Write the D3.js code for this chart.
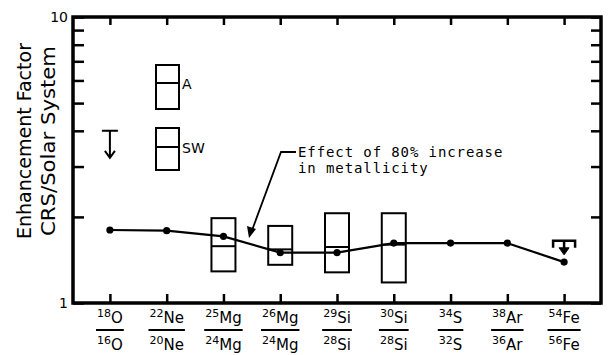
<!DOCTYPE html>
<html>
<head>
<meta charset="utf-8">
<script src="https://cdn.jsdelivr.net/npm/d3@7"></script>
<style>
  body { margin: 0; background: #fff; }
  svg text { font-family: "DejaVu Sans", sans-serif; fill: #000; }
</style>
</head>
<body>
<svg id="chart" width="609" height="355" viewBox="0 0 609 355"></svg>
<script>
// isotope ratios on the x axis
const ratios = ["18O/16O", "22Ne/20Ne", "25Mg/24Mg", "26Mg/24Mg", "29Si/28Si", "30Si/28Si", "34S/32S", "38Ar/36Ar", "54Fe/56Fe"];
const numerators = [["18", "O"], ["22", "Ne"], ["25", "Mg"], ["26", "Mg"], ["29", "Si"], ["30", "Si"], ["34", "S"], ["38", "Ar"], ["54", "Fe"]];
const denominators = [["16", "O"], ["20", "Ne"], ["24", "Mg"], ["24", "Mg"], ["28", "Si"], ["28", "Si"], ["32", "S"], ["36", "Ar"], ["56", "Fe"]];

// enhancement factor CRS / solar system
const enhancement = [1.80, 1.79, 1.71, 1.50, 1.50, 1.62, 1.62, 1.62, 1.39];

// upper limits
const limitRatios = ["18O/16O", "54Fe/56Fe"];
const limitValues = [4.0, 1.65];

// boxes: effect of 80% increase in metallicity (low, middle, high)
const boxRatios = ["25Mg/24Mg", "26Mg/24Mg", "29Si/28Si", "30Si/28Si"];
const boxLow = [1.29, 1.36, 1.28, 1.18];
const boxMid = [1.58, 1.54, 1.57, 1.60];
const boxHigh = [1.98, 1.86, 2.06, 2.06];

const yTicks = [1, 2, 3, 4, 5, 6, 7, 8, 9, 10];

const svg = d3.select("#chart");
const mLeft = 73, mRight = 601, mTop = 17, mBottom = 303;

const x = d3.scalePoint().domain(ratios).range([mLeft, mRight]).padding(0.65);
const y = d3.scaleLog().domain([1, 10]).range([mBottom, mTop]);

// axes, ticks pointing inwards
svg.append("g")
    .attr("transform", "translate(" + mLeft + ",0)")
    .call(d3.axisLeft(y).tickValues(yTicks).tickSize(-11).tickFormat(""))
    .call(g => g.select(".domain").remove())
    .call(g => g.selectAll("line").attr("stroke-width", 2.5));
svg.append("g")
    .attr("transform", "translate(" + mRight + ",0)")
    .call(d3.axisRight(y).tickValues(yTicks).tickSize(-10).tickFormat(""))
    .call(g => g.select(".domain").remove())
    .call(g => g.selectAll("line").attr("stroke-width", 2.5));
svg.append("g")
    .attr("transform", "translate(0," + mBottom + ")")
    .call(d3.axisBottom(x).tickSize(-9).tickFormat(""))
    .call(g => g.select(".domain").remove())
    .call(g => g.selectAll("line").attr("stroke-width", 2.5));
svg.append("g")
    .attr("transform", "translate(0," + mTop + ")")
    .call(d3.axisTop(x).tickSize(-8).tickFormat(""))
    .call(g => g.select(".domain").remove())
    .call(g => g.selectAll("line").attr("stroke-width", 2.5));

// frame
svg.append("rect")
    .attr("x", mLeft).attr("y", mTop)
    .attr("width", mRight - mLeft).attr("height", mBottom - mTop)
    .attr("fill", "none").attr("stroke", "#000").attr("stroke-width", 3.5);

// y labels 1 and 10
svg.append("text").attr("x", 68).attr("y", y(10) + 5).attr("text-anchor", "end")
    .style("font-size", "14px").text("10");
svg.append("text").attr("x", 68).attr("y", y(1) + 5).attr("text-anchor", "end")
    .style("font-size", "14px").text("1");

// y title
const titleG = svg.append("g").attr("transform", "translate(0,141) rotate(-90)");
titleG.append("text").attr("x", 0).attr("y", 31).attr("text-anchor", "middle")
    .attr("textLength", 196).attr("lengthAdjust", "spacingAndGlyphs")
    .style("font-size", "19px").text("Enhancement  Factor");
titleG.append("text").attr("x", 0).attr("y", 55).attr("text-anchor", "middle")
    .attr("textLength", 190).attr("lengthAdjust", "spacingAndGlyphs")
    .style("font-size", "19px").text("CRS/Solar System");

// x tick labels as fractions
function isotope(sel, parts, yPos) {
    const t = sel.append("text").attr("x", 0).attr("y", yPos).attr("text-anchor", "middle");
    t.append("tspan").style("font-size", "11px").attr("dy", -6).text(parts[0]);
    t.append("tspan").style("font-size", "15px").attr("dy", 6).text(parts[1]);
    return t;
}
ratios.forEach((r, i) => {
    const g = svg.append("g").attr("transform", "translate(" + x(r) + ",0)");
    const tn = isotope(g, numerators[i], 323);
    const td = isotope(g, denominators[i], 350);
    const w = Math.max(tn.node().getComputedTextLength(), td.node().getComputedTextLength());
    g.append("line").attr("x1", -w / 2 - 1).attr("x2", w / 2 + 1)
        .attr("y1", 330).attr("y2", 330).attr("stroke", "#000").attr("stroke-width", 2);
});

// metallicity boxes
const boxW = 24;
boxRatios.forEach((r, i) => {
    svg.append("rect")
        .attr("x", x(r) - boxW / 2).attr("y", y(boxHigh[i]))
        .attr("width", boxW).attr("height", y(boxLow[i]) - y(boxHigh[i]))
        .attr("fill", "none").attr("stroke", "#000").attr("stroke-width", 2);
    svg.append("line")
        .attr("x1", x(r) - boxW / 2).attr("x2", x(r) + boxW / 2)
        .attr("y1", y(boxMid[i])).attr("y2", y(boxMid[i]))
        .attr("stroke", "#000").attr("stroke-width", 2);
});

// data line and points
const line = d3.line().x((d, i) => x(ratios[i])).y(d => y(d));
svg.append("path").datum(enhancement).attr("d", line)
    .attr("fill", "none").attr("stroke", "#000").attr("stroke-width", 2.2);
svg.selectAll("circle.pt").data(enhancement).join("circle")
    .attr("class", "pt")
    .attr("cx", (d, i) => x(ratios[i])).attr("cy", d => y(d)).attr("r", 3.6)
    .attr("fill", "#000");

// upper limit symbols
const lim0 = x(limitRatios[0]), ly0 = y(limitValues[0]);
svg.append("path")
    .attr("d", "M" + (lim0 - 8) + "," + ly0 + "H" + (lim0 + 8) +
        "M" + lim0 + "," + ly0 + "V" + (ly0 + 27) +
        "M" + (lim0 - 5) + "," + (ly0 + 20) + "L" + lim0 + "," + (ly0 + 27) + "L" + (lim0 + 5) + "," + (ly0 + 20))
    .attr("fill", "none").attr("stroke", "#000").attr("stroke-width", 2);
const lim1 = x(limitRatios[1]), ly1 = y(limitValues[1]);
svg.append("path")
    .attr("d", "M" + (lim1 - 11) + "," + (ly1 + 7) + "V" + ly1 + "H" + (lim1 + 11) + "V" + (ly1 + 7) +
        "M" + lim1 + "," + ly1 + "V" + (ly1 + 10))
    .attr("fill", "none").attr("stroke", "#000").attr("stroke-width", 2.5);
svg.append("path")
    .attr("d", "M" + (lim1 - 5) + "," + (ly1 + 7) + "L" + (lim1 + 5) + "," + (ly1 + 7) + "L" + lim1 + "," + (ly1 + 14) + "Z")
    .attr("fill", "#000").attr("stroke", "#000").attr("stroke-width", 1);

// legend boxes A and SW
const legend = [{ label: "A", top: 65, mid: 83, bot: 109 }, { label: "SW", top: 128, mid: 147, bot: 170 }];
legend.forEach(l => {
    svg.append("rect").attr("x", 156).attr("y", l.top).attr("width", 23).attr("height", l.bot - l.top)
        .attr("fill", "none").attr("stroke", "#000").attr("stroke-width", 2);
    svg.append("line").attr("x1", 156).attr("x2", 179).attr("y1", l.mid).attr("y2", l.mid)
        .attr("stroke", "#000").attr("stroke-width", 2);
    svg.append("text").attr("x", 182).attr("y", l.mid + 6).style("font-size", "14px").text(l.label);
});

// annotation
svg.append("path")
    .attr("d", "M296,152H281L251,233")
    .attr("fill", "none").attr("stroke", "#000").attr("stroke-width", 1.8);
svg.append("path")
    .attr("d", "M249,238L247,226L256,229Z").attr("fill", "#000");
svg.append("text").attr("x", 298).attr("y", 157)
    .style("font-family", "'DejaVu Sans Mono', monospace").style("font-size", "14px")
    .style("letter-spacing", "0.9px").text("Effect of 80% increase");
svg.append("text").attr("x", 298).attr("y", 173)
    .style("font-family", "'DejaVu Sans Mono', monospace").style("font-size", "14px")
    .style("letter-spacing", "0.9px").text("in metallicity");
</script>
</body>
</html>
